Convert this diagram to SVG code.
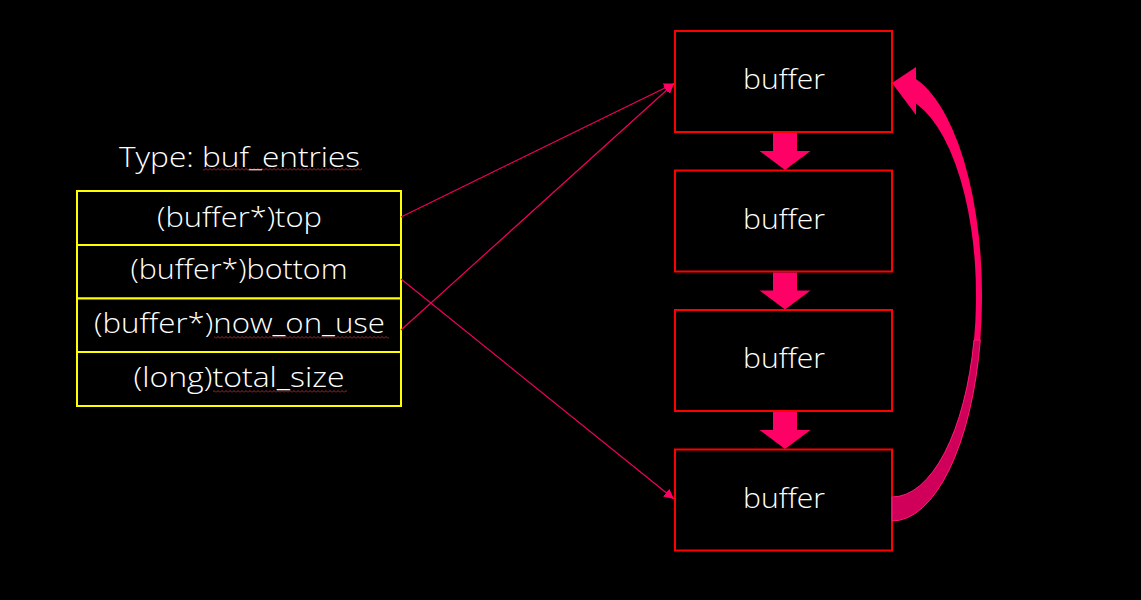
<svg xmlns="http://www.w3.org/2000/svg" width="1141" height="600" viewBox="0 0 1141 600">
<defs>
<style>
.t{font-family:"Open Sans","Noto Sans","Liberation Sans",sans-serif;font-weight:300;font-size:28px;fill:#ffffff;text-anchor:middle}
.cell{fill:#000;stroke:#ffff00;stroke-width:2}
.buf{fill:#000;stroke:#ff0000;stroke-width:2}
.conn{stroke:#f0005c;stroke-width:1.2;fill:none}
.pink{fill:#ff0066}
</style>
<marker id="ah" viewBox="0 0 10 10" refX="10" refY="5" markerWidth="10" markerHeight="10" markerUnits="userSpaceOnUse" orient="auto">
<path d="M0,0 L10,5 L0,10 Z" fill="#ff0066"/>
</marker>
<pattern id="squig" patternUnits="userSpaceOnUse" width="4" height="3">
<path d="M0,2.5 L2,0.5 L4,2.5" fill="none" stroke="#d0303a" stroke-width="0.8"/>
</pattern>
</defs>
<rect width="1141" height="600" fill="#000"/>

<g id="title">
<text class="t" x="239.5" y="167" textLength="241" lengthAdjust="spacingAndGlyphs">Type: buf_entries</text>
<rect x="203" y="168" width="159" height="3" fill="url(#squig)"/>
</g>

<g id="table">
<g id="row-top">
<rect class="cell" x="77" y="191" width="324" height="54"/>
<text class="t" x="239.5" y="227" textLength="165" lengthAdjust="spacingAndGlyphs">(buffer*)top</text>
</g>
<g id="row-bottom">
<rect class="cell" x="77" y="245" width="324" height="53.5"/>
<text class="t" x="239" y="279" textLength="217" lengthAdjust="spacingAndGlyphs">(buffer*)bottom</text>
</g>
<g id="row-now">
<rect class="cell" x="77" y="298.5" width="324" height="53.5"/>
<text class="t" x="239.5" y="333" textLength="291" lengthAdjust="spacingAndGlyphs">(buffer*)now_on_use</text>
<rect x="214" y="336" width="175" height="3" fill="url(#squig)"/>
</g>
<g id="row-total">
<rect class="cell" x="77" y="352" width="324" height="54"/>
<text class="t" x="239" y="387" textLength="211" lengthAdjust="spacingAndGlyphs">(long)total_size</text>
<rect x="213" y="390" width="134" height="3" fill="url(#squig)"/>
</g>
</g>

<g id="buffer1">
<rect class="buf" x="675" y="31" width="217" height="101"/>
<text class="t" x="784" y="89" textLength="82" lengthAdjust="spacingAndGlyphs">buffer</text>
</g>
<g id="buffer2">
<rect class="buf" x="675" y="170.5" width="217" height="101"/>
<text class="t" x="784" y="229" textLength="82" lengthAdjust="spacingAndGlyphs">buffer</text>
</g>
<g id="buffer3">
<rect class="buf" x="675" y="310" width="217" height="101"/>
<text class="t" x="784" y="368" textLength="82" lengthAdjust="spacingAndGlyphs">buffer</text>
</g>
<g id="buffer4">
<rect class="buf" x="675" y="449.5" width="217" height="101"/>
<text class="t" x="784" y="508" textLength="82" lengthAdjust="spacingAndGlyphs">buffer</text>
</g>

<g id="connectors">
<line class="conn" x1="401" y1="217" x2="674" y2="83.5" marker-end="url(#ah)"/>
<line class="conn" x1="401" y1="330" x2="674" y2="83.5" marker-end="url(#ah)"/>
<line class="conn" x1="401" y1="279" x2="674" y2="499" marker-end="url(#ah)"/>
<path class="pink" d="M773,133 H797 V151 H810.5 L785,170 L759.5,151 H773 Z"/>
<path class="pink" d="M773,272.5 H797 V290.5 H810.5 L785,309.5 L759.5,290.5 H773 Z"/>
<path class="pink" d="M773,412 H797 V430 H810.5 L785,449 L759.5,430 H773 Z"/>
<g id="loop-arrow">
<path class="pink" d="M980.3,340 A90 225 0 0 0 916,79 L916,103.4 A84 201 0 0 1 974,340 Z"/>
<path d="M892,521 A90 225 0 0 0 980.3,340 L974,340 A84 201 0 0 1 892,497 Z" fill="#d0005a" stroke="#ff1a75" stroke-width="1"/>
<path class="pink" d="M892,83 L916,67 L916,115 Z"/>
</g>
</g>
</svg>
